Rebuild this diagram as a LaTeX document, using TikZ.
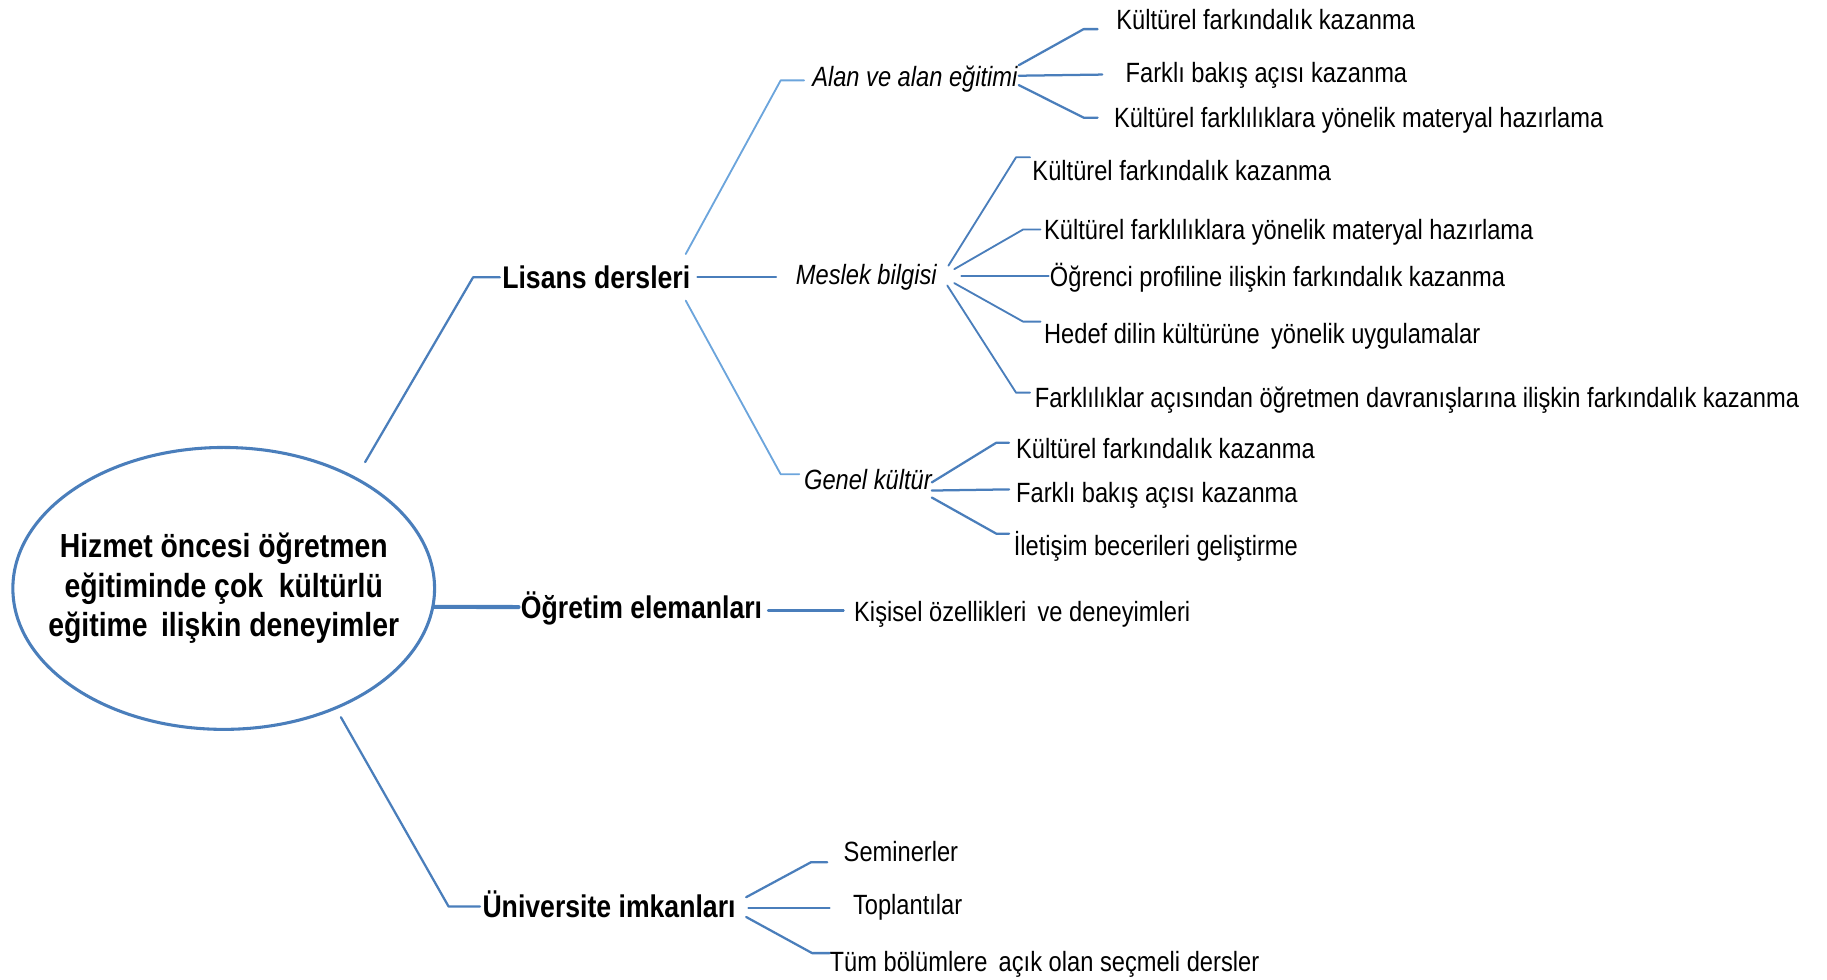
\documentclass[tikz,border=0pt]{standalone}
\usepackage{fontspec}
\setmainfont{Liberation Sans}[FakeStretch=0.85]
\usetikzlibrary{shapes.geometric}
\definecolor{linkblue}{RGB}{74,126,187}
\definecolor{paleblue}{RGB}{108,165,220}
\begin{document}
\begin{tikzpicture}[x=0.02cm,y=-0.02cm,line join=round,line cap=round]
  \tikzset{
    link/.style={draw=linkblue,line width=1.1pt},
    pale link/.style={draw=paleblue,line width=0.9pt},
    leaf/.style={anchor=west,inner xsep=1pt,inner ysep=0pt,text height=9.7pt,text depth=0pt,font=\fontsize{13.6}{16}\selectfont},
    mid/.style={leaf,font=\fontsize{13.6}{16}\selectfont\itshape},
    head/.style={leaf,text height=11pt,font=\fontsize{15.3}{18}\selectfont\bfseries}
  }
  \useasboundingbox (0,0) rectangle (1568,841);
  % ana kavram
  \node[ellipse,draw=linkblue,line width=1.5pt,inner sep=0pt,minimum width=7.24cm,minimum height=4.84cm] (root) at (192,505) {};
  \node[align=center,font=\fontsize{16.3}{19.3}\selectfont\bfseries] (roottext) at (root.center)
        {Hizmet öncesi öğretmen\\eğitiminde çok\ \ kültürlü\\eğitime\,\ ilişkin deneyimler};
  % ana dallar
  \node[head] (lis) at (429,238) {Lisans dersleri};
  \node[head] (ogr) at (445,521) {Öğretim elemanları};
  \node[head] (uni) at (412,778) {Üniversite imkanları};
  \node[mid] (alan) at (695,66) {Alan ve alan eğitimi};
  \node[mid] (mes) at (681,236) {Meslek bilgisi};
  \node[mid] (gen) at (688,412) {Genel kültür};
  % yapraklar
  \node[leaf] (a1) at (956,17) {Kültürel farkındalık kazanma};
  \node[leaf] (a2) at (964,62) {Farklı bakış açısı kazanma};
  \node[leaf] (a3) at (954,101) {Kültürel farklılıklara yönelik materyal hazırlama};
  \node[leaf] (m1) at (884,146) {Kültürel farkındalık kazanma};
  \node[leaf] (m2) at (894,197) {Kültürel farklılıklara yönelik materyal hazırlama};
  \node[leaf] (m3) at (899,237) {Öğrenci profiline ilişkin farkındalık kazanma};
  \node[leaf] (m4) at (894,286) {Hedef dilin kültürüne\, yönelik uygulamalar};
  \node[leaf] (m5) at (886,341) {Farklılıklar açısından öğretmen davranışlarına ilişkin farkındalık kazanma};
  \node[leaf] (g1) at (870,385) {Kültürel farkındalık kazanma};
  \node[leaf] (g2) at (870,423) {Farklı bakış açısı kazanma};
  \node[leaf] (g3) at (868,468) {İletişim becerileri geliştirme};
  \node[leaf] (kis) at (731,525) {Kişisel özellikleri\, ve deneyimleri};
  \node[leaf] (u1) at (722,731) {Seminerler};
  \node[leaf] (u2) at (730,776) {Toplantılar};
  \node[leaf] (u3) at (710,825) {Tüm bölümlere\, açık olan seçmeli dersler};
  % dal uclari
  \coordinate (ta1) at (942,25);  \coordinate (ta2) at (946,64);  \coordinate (ta3) at (942,101);
  \coordinate (tm1) at (884,135); \coordinate (tm2) at (893,197); \coordinate (tm3) at (900,237);
  \coordinate (tm4) at (893,276); \coordinate (tm5) at (884,337);
  \coordinate (tg1) at (866,380); \coordinate (tg2) at (866,420); \coordinate (tg3) at (866,458);
  \coordinate (tu1) at (710,740); \coordinate (tu2) at (712,779); \coordinate (tu3) at (712,818);
  % baglantilar
  \draw[link,shorten <=8.5pt] (root.40) -- ([shift={(-23,0)}]lis.west) -- (lis.west);
  \draw[link,line width=2pt] (root.-5) -- (ogr.west);
  \draw[link,shorten <=4.5pt] (root.-47) -- ([shift={(-27,0)}]uni.west) -- (uni.west);
  \draw[pale link] ([shift={(-6,-20)}]lis.east) -- ([shift={(-25,3)}]alan.west) -- ([shift={(-5,3)}]alan.west);
  \draw[link] ([shift={(4,0)}]lis.east) -- ([shift={(-15,2)}]mes.west);
  \draw[pale link] ([shift={(-6,20)}]lis.east) -- ([shift={(-18,-5)}]gen.west) -- ([shift={(-2,-5)}]gen.west);
  \draw[link] ([shift={(3,3)}]ogr.east) -- ([shift={(-7,-1)}]kis.west);
  \foreach \tip/\dx/\dy/\bend in {ta1/-1/-10/12, ta2/-1/-1/0, ta3/-1/7/12}
    \draw[link] ([shift={(\dx,\dy)}]alan.east) -- ([shift={(-\bend,0)}]\tip) -- (\tip);
  \foreach \tip/\dx/\dy/\bend in {tm1/8/-8/12, tm2/13/-5/15, tm3/19/1/0, tm4/13/7/15, tm5/7/9/12}
    \draw[link,line width=0.9pt] ([shift={(\dx,\dy)}]mes.east) -- ([shift={(-\bend,0)}]\tip) -- (\tip);
  \foreach \tip/\dx/\dy/\bend in {tg1/-2/2/11, tg2/-2/9/0, tg3/-2/15/11}
    \draw[link] ([shift={(\dx,\dy)}]gen.east) -- ([shift={(-\bend,0)}]\tip) -- (\tip);
  \foreach \tip/\dx/\dy/\bend in {tu1/7/-8/14, tu2/9/1/0, tu3/7/9/15}
    \draw[link] ([shift={(\dx,\dy)}]uni.east) -- ([shift={(-\bend,0)}]\tip) -- (\tip);
\end{tikzpicture}
\end{document}
